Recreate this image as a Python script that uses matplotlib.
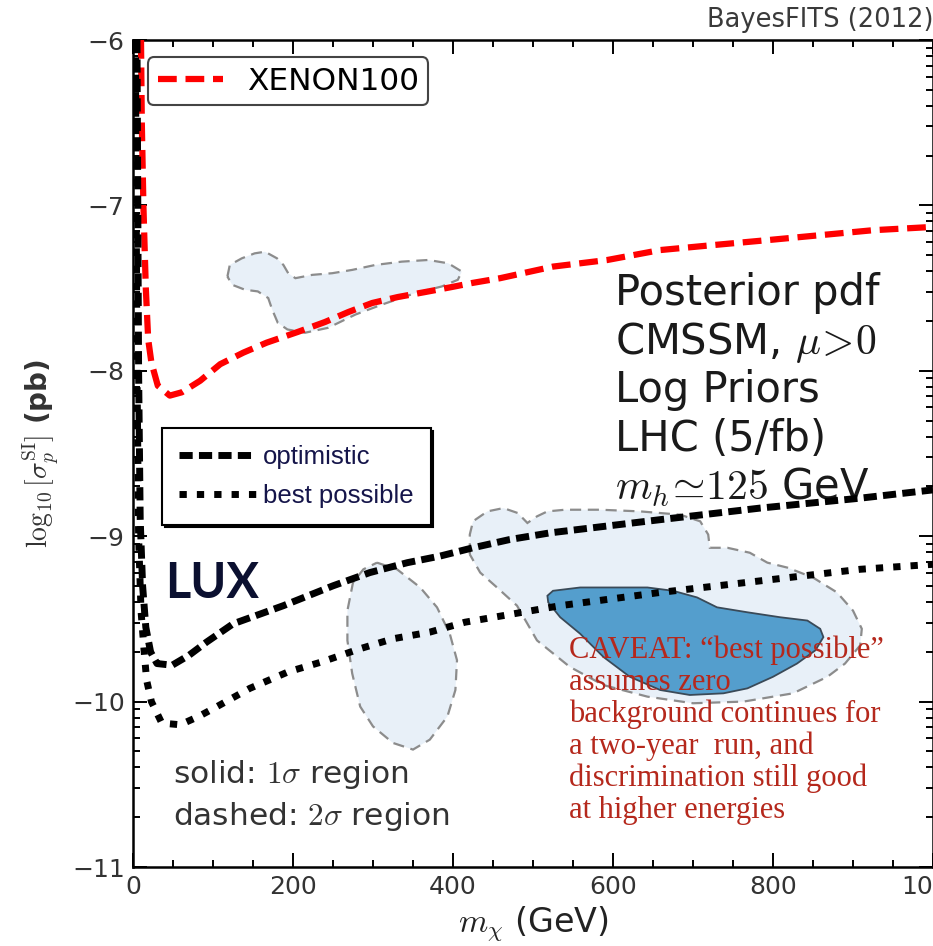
import matplotlib
matplotlib.use('Agg')
import matplotlib.pyplot as plt
from matplotlib.ticker import MultipleLocator, FixedLocator
import numpy as np

plt.rcParams['mathtext.fontset'] = 'cm'
plt.rcParams['font.family'] = ['DejaVu Sans']

# XENON100 limit
xen_x = [10, 11, 13, 16, 19, 23, 31, 46, 61, 84, 109, 138, 167, 206, 240, 269, 299, 331,
         365, 399, 424, 459, 525, 593, 659, 725, 793, 859, 925, 1000]
xen_y = [-6.0, -6.5, -7.0, -7.5, -7.81, -7.95, -8.09, -8.15, -8.13, -8.06, -7.96, -7.89, -7.83,
         -7.765, -7.705, -7.645, -7.59, -7.554, -7.524, -7.493, -7.469, -7.44, -7.37, -7.33,
         -7.27, -7.24, -7.21, -7.18, -7.15, -7.13]

# LUX projections
opt_x = [5, 7, 9, 12, 16, 22, 30, 49, 70, 92, 125, 188, 250, 296, 343, 384, 425, 471, 521,
         659, 784, 909, 1000]
opt_y = [-6.0, -8.0, -8.9, -9.3, -9.55, -9.7, -9.77, -9.78, -9.72, -9.64, -9.53, -9.42, -9.30,
         -9.22, -9.16, -9.12, -9.07, -9.02, -8.98, -8.90, -8.83, -8.77, -8.72]
bp_x = [3, 5, 7, 10, 14, 17, 23, 36, 59, 82, 105, 146, 194, 236, 284, 325, 371, 415, 463,
        534, 659, 784, 909, 1000]
bp_y = [-6.0, -8.0, -9.0, -9.45, -9.7, -9.87, -10.0, -10.13, -10.14, -10.09, -10.03, -9.92,
        -9.82, -9.76, -9.68, -9.62, -9.58, -9.52, -9.48, -9.42, -9.34, -9.27, -9.20, -9.17]

# posterior regions (2 sigma pale, 1 sigma dark)
A_x = [118, 121, 136, 152, 165, 180, 188, 194, 203, 224, 249, 274, 303, 336, 369, 394, 411,
       406, 386, 353, 311, 278, 244, 215, 193, 181, 174, 169, 156, 140, 124]
A_y = [-7.43, -7.36, -7.32, -7.29, -7.28, -7.32, -7.36, -7.41, -7.44, -7.42, -7.41, -7.39,
       -7.36, -7.34, -7.33, -7.35, -7.40, -7.45, -7.49, -7.53, -7.60, -7.66, -7.74, -7.77,
       -7.75, -7.71, -7.63, -7.56, -7.52, -7.51, -7.48]
B_x = [305, 330, 359, 380, 396, 405, 403, 393, 371, 350, 325, 300, 284, 274, 268, 268, 275, 288]
B_y = [-9.16, -9.20, -9.31, -9.43, -9.59, -9.75, -9.93, -10.09, -10.23, -10.29, -10.25, -10.15,
       -10.03, -9.83, -9.63, -9.45, -9.28, -9.20]
C_x = [421, 421, 425, 443, 463, 481, 493, 505, 518, 540, 584, 634, 684, 709, 719, 721, 743,
       771, 793, 818, 850, 880, 900, 911, 909, 890, 868, 825, 763, 700, 643, 588, 546, 505,
       480, 455, 434]
C_y = [-9.11, -8.99, -8.91, -8.85, -8.83, -8.86, -8.92, -8.88, -8.85, -8.84, -8.84, -8.85,
       -8.87, -8.91, -8.99, -9.07, -9.07, -9.10, -9.16, -9.19, -9.25, -9.34, -9.45, -9.56,
       -9.66, -9.77, -9.85, -9.95, -10.00, -10.01, -9.97, -9.90, -9.79, -9.63, -9.42, -9.31,
       -9.22]
D_x = [518, 525, 559, 600, 643, 675, 705, 730, 768, 809, 843, 859, 863, 853, 830, 800, 768,
       738, 696, 659, 621, 588, 559, 534, 519]
D_y = [-9.36, -9.33, -9.31, -9.31, -9.31, -9.33, -9.37, -9.43, -9.46, -9.49, -9.51, -9.56,
       -9.61, -9.69, -9.77, -9.85, -9.92, -9.95, -9.96, -9.93, -9.85, -9.73, -9.59, -9.49, -9.40]

info_lines = ['Posterior pdf', r'CMSSM, $\mu\!>\!0$', 'Log Priors', 'LHC (5/fb)',
              r'$m_h\!\simeq\!125$ GeV']
caveat_lines = ['CAVEAT: \u201cbest possible\u201d', 'assumes zero', 'background continues for',
                'a two-year  run, and', 'discrimination still good', 'at higher energies']

fig = plt.figure(figsize=(9.33, 9.46), dpi=100)
ax = fig.add_axes([133/933, 79/946, 800/933, 827/946])

pale = '#e8f0f8'
for rx, ry in [(A_x, A_y), (B_x, B_y), (C_x, C_y)]:
    ax.fill(rx, ry, facecolor=pale, edgecolor='#8c8c8c', lw=1.6, ls=(0, (5, 3)), zorder=1)
ax.fill(D_x, D_y, facecolor='#549ecd', edgecolor='#3a4a58', lw=1.3, zorder=1.5)

xen_line, = ax.plot(xen_x, xen_y, color='#ff0000', lw=4.5, ls=(0, (3.0, 1.4)), zorder=4)
opt_line, = ax.plot(opt_x, opt_y, color='k', lw=5.0, ls=(0, (1.9, 0.9)), zorder=4)
bp_line, = ax.plot(bp_x, bp_y, color='k', lw=5.0, ls=(0, (1.05, 1.45)), zorder=4)

ax.set_xlim(0, 1000)
ax.set_ylim(-11, -6)
ax.xaxis.set_major_locator(MultipleLocator(200))
ax.xaxis.set_minor_locator(MultipleLocator(50))
ax.yaxis.set_major_locator(MultipleLocator(1))
ax.yaxis.set_minor_locator(FixedLocator([n + np.log10(k) for n in range(-11, -6) for k in range(2, 10)]))
ax.tick_params(which='both', direction='in', top=True, right=True, width=1.4,
               labelsize=18, labelcolor='#333333')
ax.tick_params(which='major', length=10, pad=6)
ax.tick_params(which='minor', length=5)
for s in ax.spines.values():
    s.set_linewidth(1.8)

ax.set_xlabel(r'$m_\chi$ (GeV)', fontsize=24, color='#222222', va='top')
ax.xaxis.set_label_coords(0.5, -0.045)
ax.set_ylabel(r'$\log_{10}[\sigma_p^{\rm SI}]$ (pb)', fontsize=20, color='#333333',
              fontweight='bold')
ax.yaxis.set_label_coords(-0.09, 0.5)

leg1 = ax.legend(handles=[xen_line], labels=['XENON100'], loc='upper left',
                 bbox_to_anchor=(0.019, 0.979), borderaxespad=0, fancybox=True,
                 framealpha=1, edgecolor='#444444', fontsize=22.5, handlelength=2.1,
                 handletextpad=0.75, borderpad=0.3)
leg1.get_frame().set_linewidth(1.5)
ax.add_artist(leg1)

leg2 = ax.legend(handles=[opt_line, bp_line], labels=['optimistic', 'best possible'],
                 loc='upper left', bbox_to_anchor=(0.036, 0.531), borderaxespad=0,
                 fancybox=False, shadow={'color': 'k', 'alpha': 1}, framealpha=1,
                 edgecolor='k', prop={'family': ['Liberation Sans', 'DejaVu Sans'], 'size': 18.5},
                 labelcolor='#15154a', handlelength=3.0, handletextpad=0.3,
                 labelspacing=0.6, borderpad=0.65)
leg2.get_frame().set_linewidth(1.5)

ax.text(0.04, 0.325, 'LUX', transform=ax.transAxes, fontsize=35, fontweight='bold',
        family=['Lato', 'DejaVu Sans'], color='#0b1030', va='baseline', zorder=5)

for i, line in enumerate(info_lines):
    ax.text(0.6025, (867 - 305 - 48.7 * i) / 827, line, transform=ax.transAxes, fontsize=30,
            color='#1a1a1a', va='baseline', zorder=3)

for i, line in enumerate(caveat_lines):
    ax.text(0.545, (867 - 658 - 32 * i) / 827, line, transform=ax.transAxes, fontsize=22,
            family=['Liberation Serif', 'DejaVu Serif'], color='#b5281c', va='baseline', zorder=5)

ax.text(0.05, (867 - 783) / 827, r'solid: $1\sigma$ region', transform=ax.transAxes,
        fontsize=22.5, color='#333333', va='baseline', zorder=5)
ax.text(0.05, (867 - 825) / 827, r'dashed: $2\sigma$ region', transform=ax.transAxes,
        fontsize=22.5, color='#333333', va='baseline', zorder=5)

fig.text(707/933, 1 - 20/946, 'BayesFITS (2012)', fontsize=18.5, color='#3a3a3a',
         ha='left', va='center')

fig.savefig('out.png', dpi=100)
